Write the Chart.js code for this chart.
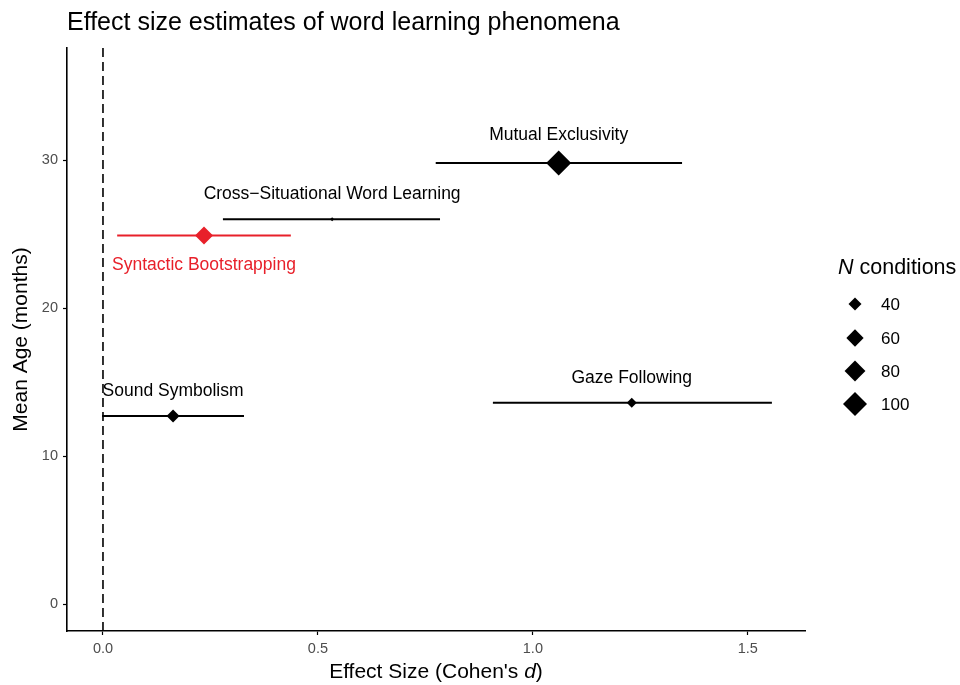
<!DOCTYPE html>
<html lang="en">
<head>
<meta charset="UTF-8" />
<title>Effect size estimates of word learning phenomena</title>
<script src="https://cdn.jsdelivr.net/npm/chart.js"></script>
<style>
  html, body { margin: 0; padding: 0; background: #fff; }
</style>
</head>
<body>
<canvas id="chartCanvas" width="960" height="685"></canvas>
<script>
  // values
  const phenomena = ['Mutual Exclusivity', 'Cross\u2212Situational Word Learning', 'Syntactic Bootstrapping', 'Sound Symbolism', 'Gaze Following'];
  const effectSize = [1.06, 0.533, 0.235, 0.163, 1.23];
  const ciLow = [0.774, 0.279, 0.033, -0.002, 0.907];
  const ciHigh = [1.347, 0.784, 0.437, 0.328, 1.556];
  const meanAge = [29.8, 26.0, 24.9, 12.7, 13.6];
  const nConditions = [107, 11, 64, 40, 28];
  const labelAge = [31.8, 27.8, 23.0, 14.5, 15.4];
  const highlighted = 'Syntactic Bootstrapping';

  const legendSizes = [40, 60, 80, 100];
  const xTicks = [0, 0.5, 1, 1.5];
  const yTicks = [0, 10, 20, 30];
  const xRange = [-0.0837, 1.633];
  const yRange = [-1.82, 37.57];

  const FONT = '"Liberation Sans", Arial, sans-serif';
  const RED = '#e8202a';

  function sizeFor(n) { return Math.max(1.6, 1.49 * Math.sqrt(n) - 2.9); }
  function colorFor(i) { return phenomena[i] === highlighted ? RED : '#000'; }

  const datasets = [];

  // points on top
  datasets.push({
    type: 'scatter',
    order: 0,
    data: phenomena.map((_, i) => ({ x: effectSize[i], y: meanAge[i] })),
    pointStyle: 'rectRot',
    pointRadius: ctx => sizeFor(nConditions[ctx.dataIndex]),
    pointHoverRadius: ctx => sizeFor(nConditions[ctx.dataIndex]),
    backgroundColor: ctx => colorFor(ctx.dataIndex),
    borderWidth: 0
  });

  // horizontal error bars
  phenomena.forEach((_, i) => {
    datasets.push({
      type: 'line',
      order: 1,
      data: [{ x: ciLow[i], y: meanAge[i] }, { x: ciHigh[i], y: meanAge[i] }],
      borderColor: colorFor(i),
      borderWidth: 2,
      pointRadius: 0,
      fill: false
    });
  });

  // reference line at d = 0
  datasets.push({
    type: 'line',
    order: 2,
    data: [{ x: 0, y: yRange[0] }, { x: 0, y: yRange[1] }],
    borderColor: '#000',
    borderWidth: 1.6,
    borderDash: [9, 5],
    pointRadius: 0,
    fill: false
  });

  function diamond(ctx, x, y, r) {
    ctx.beginPath();
    ctx.moveTo(x - r, y);
    ctx.lineTo(x, y - r);
    ctx.lineTo(x + r, y);
    ctx.lineTo(x, y + r);
    ctx.closePath();
    ctx.fill();
  }

  const textPlugin = {
    id: 'textPlugin',
    afterDraw(chart) {
      const { ctx, scales: { x, y }, chartArea } = chart;
      ctx.save();

      // point labels
      ctx.font = `17.5px ${FONT}`;
      ctx.textAlign = 'center';
      ctx.textBaseline = 'middle';
      phenomena.forEach((name, i) => {
        ctx.fillStyle = colorFor(i);
        ctx.fillText(name, x.getPixelForValue(effectSize[i]), y.getPixelForValue(labelAge[i]) + 2);
      });

      // title
      ctx.fillStyle = '#000';
      ctx.textAlign = 'left';
      ctx.font = `25px ${FONT}`;
      ctx.fillText('Effect size estimates of word learning phenomena', chartArea.left, 23);

      // y axis title
      ctx.font = `21px ${FONT}`;
      ctx.save();
      ctx.translate(21, (chartArea.top + chartArea.bottom) / 2);
      ctx.rotate(-Math.PI / 2);
      ctx.textAlign = 'center';
      ctx.fillText('Mean Age (months)', 0, 0);
      ctx.restore();

      // x axis title with italic d
      const partA = "Effect Size (Cohen's ";
      const partB = 'd';
      const partC = ')';
      ctx.font = `21px ${FONT}`;
      const wA = ctx.measureText(partA).width;
      const wC = ctx.measureText(partC).width;
      ctx.font = `italic 21px ${FONT}`;
      const wB = ctx.measureText(partB).width;
      const tx = (chartArea.left + chartArea.right) / 2 - (wA + wB + wC) / 2;
      const ty = 672;
      ctx.textAlign = 'left';
      ctx.font = `21px ${FONT}`;
      ctx.fillText(partA, tx, ty);
      ctx.font = `italic 21px ${FONT}`;
      ctx.fillText(partB, tx + wA, ty);
      ctx.font = `21px ${FONT}`;
      ctx.fillText(partC, tx + wA + wB, ty);

      // legend
      ctx.font = `italic 21.5px ${FONT}`;
      ctx.fillText('N', 838, 268);
      const wN = ctx.measureText('N ').width;
      ctx.font = `21.5px ${FONT}`;
      ctx.fillText('conditions', 838 + wN, 268);
      const legendY = [304, 338, 371, 404];
      ctx.font = `17px ${FONT}`;
      legendSizes.forEach((n, k) => {
        diamond(ctx, 855, legendY[k], sizeFor(n));
        ctx.fillText(String(n), 881, legendY[k] + 1);
      });

      ctx.restore();
    }
  };

  const axisCommon = {
    grid: { drawOnChartArea: false, drawTicks: true, color: '#000', tickLength: 4, tickWidth: 1.2 },
    border: { display: true, color: '#000', width: 1.6 },
    ticks: { color: '#4d4d4d', font: { family: FONT, size: 14.5 } }
  };

  new Chart(document.getElementById('chartCanvas').getContext('2d'), {
    type: 'scatter',
    data: { datasets: datasets },
    options: {
      responsive: false,
      animation: false,
      events: [],
      layout: { padding: { top: 48, right: 155, left: 0, bottom: 0 } },
      plugins: { legend: { display: false }, tooltip: { enabled: false } },
      scales: {
        x: {
          type: 'linear',
          min: xRange[0],
          max: xRange[1],
          afterBuildTicks: s => { s.ticks = xTicks.map(v => ({ value: v })); },
          afterFit: s => { s.height = 54; },
          grid: axisCommon.grid,
          border: axisCommon.border,
          ticks: { ...axisCommon.ticks, padding: 5, maxRotation: 0, callback: v => v.toFixed(1) }
        },
        y: {
          type: 'linear',
          min: yRange[0],
          max: yRange[1],
          afterBuildTicks: s => { s.ticks = yTicks.map(v => ({ value: v })); },
          afterFit: s => { s.width = 67; },
          grid: axisCommon.grid,
          border: axisCommon.border,
          ticks: { ...axisCommon.ticks, padding: 5 }
        }
      }
    },
    plugins: [textPlugin]
  });
</script>
</body>
</html>
